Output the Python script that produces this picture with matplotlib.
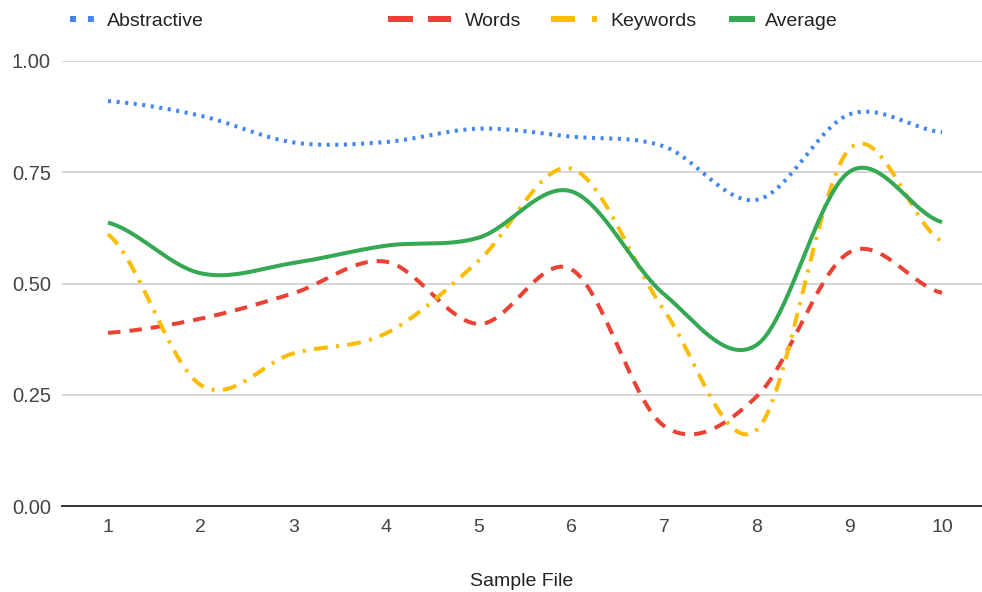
import numpy as np
import matplotlib
matplotlib.use('Agg')
import matplotlib.pyplot as plt
from matplotlib.lines import Line2D

plt.rcParams['font.family'] = ['Liberation Sans', 'DejaVu Sans']
plt.rcParams['lines.scale_dashes'] = False

files = list(range(1, 11))
abstractive = [0.910, 0.877, 0.817, 0.818, 0.848, 0.830, 0.808, 0.688, 0.880, 0.840]
words = [0.389, 0.421, 0.478, 0.549, 0.409, 0.532, 0.180, 0.246, 0.570, 0.479]
keywords = [0.611, 0.272, 0.343, 0.388, 0.551, 0.758, 0.440, 0.171, 0.802, 0.595]
average = [0.637, 0.523, 0.546, 0.585, 0.603, 0.707, 0.476, 0.362, 0.751, 0.638]

BLUE = '#4285F4'
RED = '#EA4335'
YELLOW = '#FBBC04'
GREEN = '#34A853'


def smooth(x, y, n=40):
    # cubic hermite curve through the points, catmull-rom tangents
    x = np.asarray(x, float)
    y = np.asarray(y, float)
    m = np.empty_like(y)
    m[1:-1] = (y[2:] - y[:-2]) / (x[2:] - x[:-2])
    m[0] = (y[1] - y[0]) / (x[1] - x[0]) / 2
    m[-1] = (y[-1] - y[-2]) / (x[-1] - x[-2]) / 2
    xs, ys = [], []
    for i in range(len(x) - 1):
        h = x[i + 1] - x[i]
        t = np.linspace(0, 1, n, endpoint=(i == len(x) - 2))
        h00 = 2 * t**3 - 3 * t**2 + 1
        h10 = t**3 - 2 * t**2 + t
        h01 = -2 * t**3 + 3 * t**2
        h11 = t**3 - t**2
        xs.append(x[i] + t * h)
        ys.append(h00 * y[i] + h10 * h * m[i] + h01 * y[i + 1] + h11 * h * m[i + 1])
    return np.concatenate(xs), np.concatenate(ys)


fig = plt.figure(figsize=(9.82, 5.92), dpi=100)
ax = fig.add_axes([62 / 982, 86 / 592, 920 / 982, 445 / 592])

lw = 2.9
styles = [
    (abstractive, BLUE, (0, (2.2, 4.0))),
    (words, RED, (0, (9.0, 6.5))),
    (keywords, YELLOW, (0, (10.0, 6.0, 2.2, 6.0))),
    (average, GREEN, '-'),
]
for series, color, ls in styles:
    xs, ys = smooth(files, series)
    ax.plot(xs, ys, color=color, lw=lw, ls=ls, dash_capstyle='butt',
            solid_capstyle='butt', zorder=3)

ax.set_xlim(1 - 46 / 92.67, 1 + 874 / 92.67)
ax.set_ylim(0, 1)
ax.set_xticks(files)
ax.set_yticks([0, 0.25, 0.5, 0.75, 1.0])
ax.set_yticklabels(['0.00', '0.25', '0.50', '0.75', '1.00'])
ax.tick_params(axis='both', length=0, labelsize=14, colors='#444444')
ax.tick_params(axis='y', pad=8, labelsize=14.5)
ax.tick_params(axis='x', pad=9)
ax.grid(axis='y', color='#cccccc', lw=1.1)
ax.set_axisbelow(True)
for side in ['top', 'right', 'left']:
    ax.spines[side].set_visible(False)
ax.spines['bottom'].set_color('#333333')
ax.spines['bottom'].set_linewidth(1.4)
ax.spines['bottom'].set_zorder(4)
ax.set_xlabel('Sample File', fontsize=14, color='#222222', labelpad=27)

# legend across the top
W, H = 982, 592
ly = 1 - 19 / H
handles = [
    (70, 94, BLUE, (0, (4.3, 8.6)), 'Abstractive', 107),
    (388, 451, RED, (0, (18.0, 10.8)), 'Words', 465),
    (551, 597, YELLOW, (0, (17.3, 12.2, 3.6, 12.2)), 'Keywords', 610),
    (729, 755, GREEN, '-', 'Average', 765),
]
for x0, x1, color, ls, label, tx in handles:
    fig.add_artist(Line2D([x0 / W, x1 / W], [ly, ly], color=color, lw=4.3,
                          ls=ls, dash_capstyle='butt', solid_capstyle='butt'))
    fig.text(tx / W, ly - 2 / H, label, fontsize=14, color='#222222',
             va='center', ha='left')

fig.savefig('out.png', dpi=100)
